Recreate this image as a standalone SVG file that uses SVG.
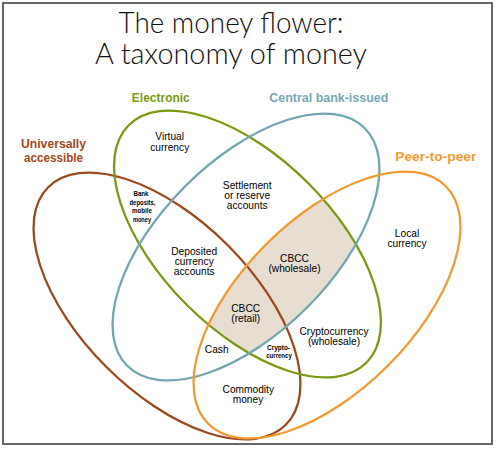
<svg xmlns="http://www.w3.org/2000/svg" width="496" height="450" viewBox="0 0 496 450">
  <style>
    .set { fill: none; stroke-width: 2.3; }
    .title { font-family: Lato, "Open Sans", "Liberation Sans", sans-serif; font-weight: 300; font-size: 29px; fill: #111; text-anchor: middle; }
    .head { font-family: "Liberation Sans", Arial, sans-serif; font-weight: bold; font-size: 12px; text-anchor: middle; }
    .lbl { font-family: "Liberation Sans", Arial, sans-serif; font-size: 10.2px; fill: #000; text-anchor: middle; }
    .tiny { font-family: "Liberation Sans", Arial, sans-serif; font-weight: bold; font-size: 8px; fill: #000; text-anchor: middle; }
  </style>
  <defs>
    <ellipse id="shape" cx="0" cy="0" rx="168" ry="86"/>
    <clipPath id="clipGreen">
      <use href="#shape" transform="translate(247.5,244) rotate(45)"/>
    </clipPath>
    <clipPath id="clipBlue">
      <use href="#shape" transform="translate(246,247) rotate(-45)"/>
    </clipPath>
  </defs>

  <rect x="0" y="0" width="496" height="450" fill="#ffffff"/>
  <rect x="3" y="3" width="489" height="441" fill="#ffffff" stroke="#666666" stroke-width="2"/>

  <g id="title">
    <text class="title" x="231" y="33" textLength="225" lengthAdjust="spacingAndGlyphs">The money flower:</text>
    <text class="title" x="231" y="64" textLength="272" lengthAdjust="spacingAndGlyphs">A taxonomy of money</text>
  </g>

  <g id="shading" clip-path="url(#clipGreen)">
    <g clip-path="url(#clipBlue)">
      <use href="#shape" transform="translate(327,305) rotate(-45)" fill="#e7ddd1"/>
    </g>
  </g>

  <g id="universally-accessible">
    <use href="#shape" class="set" stroke="#9a4a1f" transform="translate(167,306) rotate(45)"/>
    <text class="head" fill="#a3471c" x="53.5" y="148.3" textLength="65" lengthAdjust="spacingAndGlyphs">Universally</text>
    <text class="head" fill="#a3471c" x="53.5" y="161.7" textLength="59" lengthAdjust="spacingAndGlyphs">accessible</text>
  </g>

  <g id="electronic">
    <use href="#shape" class="set" stroke="#7a9a14" transform="translate(247.5,244) rotate(45)"/>
    <text class="head" fill="#7a9a14" x="160.8" y="101.7" textLength="58" lengthAdjust="spacingAndGlyphs">Electronic</text>
  </g>

  <g id="central-bank-issued">
    <use href="#shape" class="set" stroke="#73a6b0" transform="translate(246,247) rotate(-45)"/>
    <text class="head" fill="#78a9b3" x="328.8" y="101.7" textLength="119" lengthAdjust="spacingAndGlyphs">Central bank-issued</text>
  </g>

  <g id="peer-to-peer">
    <use href="#shape" class="set" stroke="#f4992f" transform="translate(327,305) rotate(-45)"/>
    <text class="head" fill="#f39a31" x="435.8" y="161" textLength="81" lengthAdjust="spacingAndGlyphs">Peer-to-peer</text>
  </g>

  <g id="connectors"></g>

  <g id="regions">
    <g id="virtual-currency">
      <text class="lbl" x="169.7" y="140">Virtual</text>
      <text class="lbl" x="169.7" y="150.7">currency</text>
    </g>
    <g id="bank-deposits">
      <text class="tiny" x="141" y="196" textLength="15" lengthAdjust="spacingAndGlyphs">Bank</text>
      <text class="tiny" x="142.5" y="204.5" textLength="26" lengthAdjust="spacingAndGlyphs">deposits,</text>
      <text class="tiny" x="142" y="213.2" textLength="20" lengthAdjust="spacingAndGlyphs">mobile</text>
      <text class="tiny" x="142" y="221.7" textLength="18" lengthAdjust="spacingAndGlyphs">money</text>
    </g>
    <g id="settlement">
      <text class="lbl" x="247.2" y="189">Settlement</text>
      <text class="lbl" x="247.2" y="199">or reserve</text>
      <text class="lbl" x="247.2" y="209">accounts</text>
    </g>
    <g id="deposited-currency">
      <text class="lbl" x="194.2" y="255">Deposited</text>
      <text class="lbl" x="194.2" y="265">currency</text>
      <text class="lbl" x="194.2" y="275">accounts</text>
    </g>
    <g id="local-currency">
      <text class="lbl" x="407" y="236.7">Local</text>
      <text class="lbl" x="407" y="246.7">currency</text>
    </g>
    <g id="cbcc-wholesale">
      <text class="lbl" x="294.5" y="261.7">CBCC</text>
      <text class="lbl" x="294.5" y="271.7">(wholesale)</text>
    </g>
    <g id="cbcc-retail">
      <text class="lbl" x="245.7" y="311.7">CBCC</text>
      <text class="lbl" x="245.7" y="322">(retail)</text>
    </g>
    <g id="cash">
      <text class="lbl" x="216.7" y="353.3">Cash</text>
    </g>
    <g id="cryptocurrency">
      <text class="tiny" x="278.5" y="349.5" textLength="23" lengthAdjust="spacingAndGlyphs">Crypto-</text>
      <text class="tiny" x="279" y="358.3" textLength="25.5" lengthAdjust="spacingAndGlyphs">currency</text>
    </g>
    <g id="cryptocurrency-wholesale">
      <text class="lbl" x="334" y="335">Cryptocurrency</text>
      <text class="lbl" x="334" y="345">(wholesale)</text>
    </g>
    <g id="commodity-money">
      <text class="lbl" x="248.3" y="393.3">Commodity</text>
      <text class="lbl" x="248" y="403.3">money</text>
    </g>
  </g>
</svg>
